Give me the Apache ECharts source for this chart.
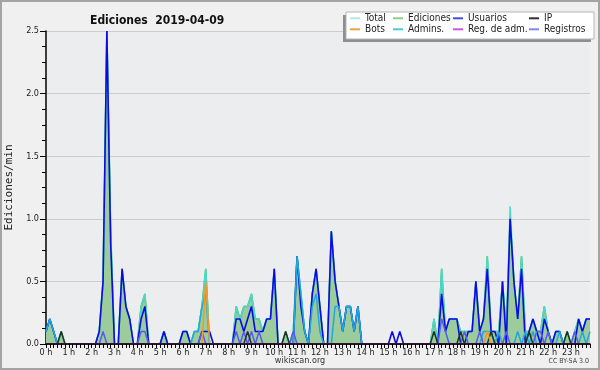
<!DOCTYPE html>
<html><head><meta charset="utf-8">
<script src="https://cdn.jsdelivr.net/npm/echarts@6/dist/echarts.min.js"></script>
<style>html,body{margin:0;padding:0;background:#f0f0f0}#c{width:600px;height:370px}</style>
</head><body><div id="c"></div>
<script>
// 10-minute slots, 0:00 .. 23:50
const categories = [];
for (let h = 0; h < 24; h++) for (let m = 0; m < 60; m += 10) categories.push(h + ':' + (m === 0 ? '00' : m));
const hourLabels = ['0 h','1 h','2 h','3 h','4 h','5 h','6 h','7 h','8 h','9 h','10 h','11 h','12 h','13 h','14 h','15 h','16 h','17 h','18 h','19 h','20 h','21 h','22 h','23 h'];
const yTicks = [0, 0.5, 1.0, 1.5, 2.0, 2.5];

const total = [
 .1,.2,.1,0,.1,0, 0,0,0,0,0,0,
 0,0,.1,.5,2.5,.9, 0,0,.6,.3,.2,0,
 0,.3,.4,0,0,0, 0,.1,0,0,0,0,
 .1,.1,0,.1,.1,.3, .6,0,0,0,0,0,
 0,0,.3,.2,.3,.3, .4,.2,.2,.1,.2,.2,
 .6,0,0,.1,0,.1, .7,.4,.1,0,.4,.6,
 .3,0,0,.9,.5,.3, .1,.3,.3,.1,.3,0,
 0,0,0,0,0,0, 0,0,0,0,0,0,
 0,0,0,0,0,0, .2,0,.6,.1,.2,.2,
 .2,.1,.1,.1,.1,.5, .1,.2,.7,.1,.1,.1,
 .5,.1,1.1,.5,.2,.7, .1,.1,.2,.1,.1,.3,
 .1,0,.1,.1,0,.1, 0,.1,.2,.1,.2,.2
];
const ediciones = [
 .1,.2,.1,0,.1,0, 0,0,0,0,0,0,
 0,0,.1,.5,2.5,.9, 0,0,.6,.3,.2,0,
 0,.3,.4,0,0,0, 0,.1,0,0,0,0,
 .1,.1,0,.1,.1,.3, .6,0,0,0,0,0,
 0,0,.3,.2,.3,.3, .4,.2,.2,.1,.2,.2,
 .6,0,0,.1,0,.1, .7,.4,.1,0,.4,.6,
 .3,0,0,.9,.5,.3, .1,.3,.3,.1,.3,0,
 0,0,0,0,0,0, 0,0,0,0,0,0,
 0,0,0,0,0,0, .2,0,.6,.1,.2,.2,
 .2,.1,.1,.1,.1,.5, .1,.2,.7,.1,.1,.1,
 .5,.1,1.0,.5,.2,.7, .1,.1,.2,.1,.1,.3,
 .1,0,.1,.1,0,.1, 0,.1,.2,.1,.2,.2
];
const usuarios = [
 .1,.2,.1,0,0,0, 0,0,0,0,0,0,
 0,0,.1,.5,2.5,.8, 0,0,.6,.3,.2,0,
 0,.2,.3,0,0,0, 0,.1,0,0,0,0,
 .1,.1,0,0,0,.1, .1,.1,0,0,0,0,
 0,0,.2,.2,.1,.2, .3,.1,.1,.1,.2,.2,
 .6,0,0,0,0,0, .7,.3,.1,0,.4,.6,
 .3,0,0,.9,.5,.3, .1,.3,.3,.1,.3,0,
 0,0,0,0,0,0, 0,.1,0,.1,0,0,
 0,0,0,0,0,0, 0,0,.4,.1,.2,.2,
 .2,0,0,.1,.1,.5, .1,.2,.6,.1,.1,0,
 .5,0,1.0,.5,.2,.6, 0,.1,.2,.1,0,.2,
 .1,0,.1,.1,0,0, 0,0,.2,.1,.2,.2
];
const ip = [
 0,0,0,0,.1,0, 0,0,0,0,0,0,
 0,0,0,0,0,0, 0,0,0,0,0,0,
 0,0,0,0,0,0, 0,0,0,0,0,0,
 0,0,0,0,0,0, 0,0,0,0,0,0,
 0,0,0,0,0,.1, 0,0,0,0,0,0,
 0,0,0,.1,0,0, 0,0,0,0,0,0,
 0,0,0,0,0,0, 0,0,0,0,0,0,
 0,0,0,0,0,0, 0,0,0,0,0,0,
 0,0,0,0,0,0, .1,0,0,0,0,0,
 0,.1,0,0,0,0, 0,0,0,.1,0,0,
 0,0,0,0,0,0, 0,.1,0,0,0,0,
 0,0,0,0,0,.1, 0,0,0,0,0,0
];
const bots = [
 0,0,0,0,0,0, 0,0,0,0,0,0,
 0,0,0,0,0,0, 0,0,0,0,0,0,
 0,0,0,0,0,0, 0,0,0,0,0,0,
 0,0,0,0,0,0, .5,0,0,0,0,0,
 0,0,0,0,0,0, 0,0,0,0,0,0,
 0,0,0,0,0,0, 0,0,0,0,0,0,
 0,0,0,0,0,0, 0,0,0,0,0,0,
 0,0,0,0,0,0, 0,0,0,0,0,0,
 0,0,0,0,0,0, 0,0,0,0,0,0,
 0,0,0,0,0,0, 0,0,.1,0,0,0,
 0,0,0,0,0,0, 0,0,0,0,0,0,
 0,0,0,0,0,0, 0,0,0,0,0,0
];
const admins = [
 .1,.2,.1,0,0,0, 0,0,0,0,0,0,
 0,0,0,0,0,0, 0,0,0,0,0,0,
 0,0,0,0,0,0, 0,0,0,0,0,0,
 0,0,0,.1,.1,.3, .4,0,0,0,0,0,
 0,0,0,0,0,0, 0,0,0,0,0,0,
 0,0,0,0,0,0, .7,.4,.1,0,.3,.4,
 .1,0,0,0,.3,.3, .1,.3,.3,.1,.3,0,
 0,0,0,0,0,0, 0,0,0,0,0,0,
 0,0,0,0,0,0, 0,0,0,0,0,0,
 0,0,0,0,0,0, 0,.1,.1,.1,0,.1,
 0,0,0,0,.1,0, .1,0,.1,0,0,0,
 0,0,0,.1,0,0, 0,0,0,.1,0,.1
];
const regAdm = [
 0,0,0,0,0,0, 0,0,0,0,0,0,
 0,0,0,0,0,0, 0,0,0,0,0,0,
 0,0,0,0,0,0, 0,0,0,0,0,0,
 0,0,0,0,0,0, 0,0,0,0,0,0,
 0,0,0,0,0,0, 0,0,0,0,0,0,
 0,0,0,0,0,0, 0,0,0,0,0,0,
 0,0,0,0,0,0, 0,0,0,0,0,0,
 0,0,0,0,0,0, 0,0,0,0,0,0,
 0,0,0,0,0,0, 0,0,0,0,0,0,
 0,0,0,0,0,0, 0,0,0,0,0,0,
 0,0,0,0,0,0, 0,0,0,0,0,0,
 0,0,0,0,0,0, 0,0,0,0,0,0
];
const registros = [
 0,0,0,0,0,0, 0,0,0,0,0,0,
 0,0,0,.1,0,0, 0,0,0,0,0,0,
 0,.1,.1,0,0,0, 0,0,0,0,0,0,
 0,0,0,0,0,.1, 0,0,0,0,0,0,
 0,0,.1,0,.1,0, .1,0,.1,0,0,0,
 0,0,0,0,0,.1, 0,0,0,0,0,0,
 0,0,0,0,0,0, 0,0,0,0,0,0,
 0,0,0,0,0,0, 0,0,0,0,0,0,
 0,0,0,0,0,0, 0,0,.2,.1,0,0,
 0,0,.1,0,0,0, .1,0,0,0,0,0,
 0,.1,0,0,0,0, 0,0,0,.1,.1,0,
 .1,0,0,0,0,0, 0,.1,0,0,0,0
];

const FONT = '"DejaVu Sans Condensed","DejaVu Sans",sans-serif';
const MONO = '"DejaVu Sans Mono",monospace';
const chart = echarts.init(document.getElementById('c'), null, {renderer: 'canvas'});

function line(name, data, color, w, extra) {
  return Object.assign({
    name: name, type: 'line', data: data, symbol: 'none', showSymbol: false,
    lineStyle: {color: color, width: w}, itemStyle: {color: color},
    emphasis: {disabled: true}, animation: false
  }, extra || {});
}

const legendColors = {
  'Total': '#b4e6e6', 'Ediciones': '#8acc8a', 'Usuarios': '#4a4ae0', 'IP': '#333333',
  'Bots': '#f0a040', 'Admins.': '#48c8dc', 'Reg. de adm.': '#d050e0', 'Registros': '#8484f0'
};
const legendCols = [['Total','Bots'], ['Ediciones','Admins.'], ['Usuarios','Reg. de adm.'], ['IP','Registros']];
const legendLefts = [350, 393, 453, 529];

chart.setOption({
  backgroundColor: '#f0f0f0',
  animation: false,
  title: {
    text: 'Ediciones  2019-04-09', left: 85, top: 10,
    textStyle: {fontSize: 12, fontWeight: 'bold', color: '#111', fontFamily: FONT}
  },
  legend: legendCols.map((col, k) => ({
    orient: 'vertical', left: legendLefts[k], top: 12.8, itemGap: 0, padding: 0,
    itemWidth: 10, itemHeight: 2, icon: 'rect', selectedMode: false,
    textStyle: {fontSize: 10, lineHeight: 11, color: '#222', fontFamily: FONT},
    data: col.map(n => ({name: n, itemStyle: {color: legendColors[n]}}))
  })),
  grid: {left: 46, right: 10, top: 31, bottom: 26, show: true, backgroundColor: '#ecedef', borderWidth: 0,
    containLabel: false, outerBoundsMode: 'none'},
  xAxis: {
    type: 'category', data: categories, boundaryGap: false, z: 5,
    axisLine: {lineStyle: {color: '#000', width: 1.5}},
    axisTick: {show: true, interval: 0, length: 4, lineStyle: {color: '#000', width: 1}},
    axisLabel: {interval: 5, margin: 4, fontSize: 9, color: '#222', fontFamily: FONT,
      formatter: (v, idx) => hourLabels[Math.floor(idx / 6)]},
    splitLine: {show: false}
  },
  yAxis: {
    type: 'value', min: 0, max: 2.5, interval: 0.5,
    name: 'Ediciones/min', nameLocation: 'middle', nameGap: 31,
    nameTextStyle: {fontSize: 11, color: '#222', fontFamily: MONO},
    axisLine: {show: true, lineStyle: {color: '#000', width: 1.5}},
    axisTick: {show: true, length: 6, lineStyle: {color: '#000'}},
    minorTick: {show: true, splitNumber: 4, length: 4, lineStyle: {color: '#000'}},
    axisLabel: {fontSize: 9, color: '#222', margin: 7, fontFamily: FONT,
      formatter: v => yTicks.indexOf(v) >= 0 ? v.toFixed(1) : ''},
    splitLine: {show: true, lineStyle: {color: '#cdcdcd', width: 1}}
  },
  graphic: [
    {type: 'rect', shape: {x: 343, y: 15, width: 248, height: 27}, style: {fill: '#8e8e8e'}, silent: true, z: 1},
    {type: 'rect', shape: {x: 346, y: 12, width: 248, height: 27}, style: {fill: '#ffffff', stroke: '#b4b4b4', lineWidth: 1}, silent: true, z: 1},
    {type: 'text', left: 'center', top: 356, style: {text: 'wikiscan.org', fill: '#333', font: '9px ' + FONT}, silent: true},
    {type: 'text', right: 11, top: 358, style: {text: 'CC BY-SA 3.0', fill: '#444', font: '7px ' + FONT}, silent: true},
    {type: 'rect', shape: {x: 1, y: 1, width: 598, height: 368}, style: {fill: 'none', stroke: '#a4a4a4', lineWidth: 2}, silent: true, z: 100}
  ],
  series: [
    line('Ediciones', ediciones, '#40b040', 1.5, {areaStyle: {color: '#9ccc9c', opacity: 1}}),
    line('Total', total, '#4cd8cc', 1.5),
    line('Usuarios', usuarios, '#0a0ae6', 1.6),
    line('Admins.', admins, '#22a8dc', 1.5),
    line('Registros', registros, '#5a5af0', 1.5),
    line('IP', ip, '#223322', 1.5),
    line('Bots', bots, '#f09a28', 1.5),
    line('Reg. de adm.', regAdm, '#cc44dd', 1.5)
  ]
});
</script></body></html>
